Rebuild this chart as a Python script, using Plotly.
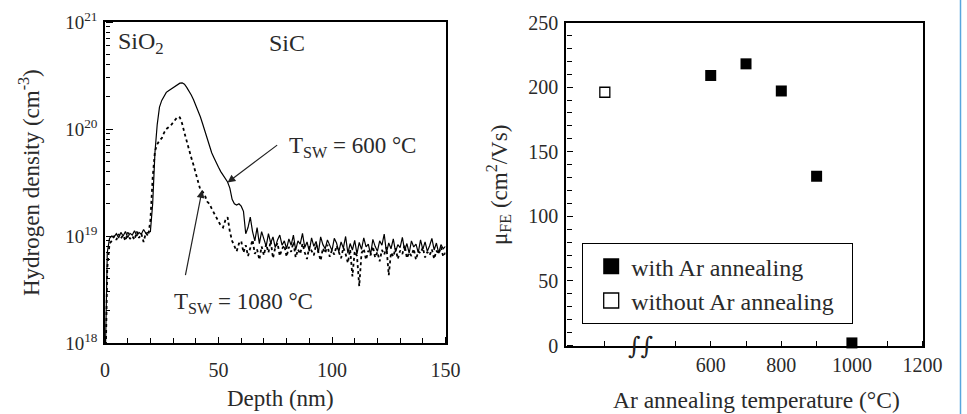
import plotly.graph_objects as go

# ---------------- data: left panel (SIMS hydrogen profile) ----------------
UNIT = 1e18  # values below are in units of 1e18 cm^-3
depth_nm = list(range(0, 151))

h_600C = [0.5, 7, 9.5, 10, 9.8, 10.5, 9.6, 10.8, 10, 11, 9.7, 10.6, 10.2, 11.2, 10, 10.8, 10.4, 11.5, 10.6, 10.8, 11,
          20, 60, 110, 160, 185, 205, 220, 228, 235, 242, 250, 258, 268, 270, 262, 245, 228, 208, 188, 168,
          150, 130, 112, 95, 80, 70, 60, 54, 48, 44, 40, 37, 34, 32, 28, 22, 20, 19.5, 20, 19,
          17, 10.5, 12, 15, 11, 9, 12, 8.5, 11, 9.5, 8, 10.5, 8.6, 9.8, 7.8, 9.2, 10.2, 8.2, 9, 7.6,
          9.4, 8.2, 10.2, 7.4, 9.0, 8.4, 10.6, 7.8, 8.8, 7.2, 9.6, 8.0, 8.9, 7.0, 9.8, 8.3, 7.6, 9.2, 8.1, 7.3,
          9.5, 8.6, 7.1, 8.8, 7.7, 9.9, 6.9, 8.5, 7.4, 9.1, 6.8, 8.7, 7.5, 9.6, 7.9, 8.4, 6.7, 9.3, 8.0, 7.2,
          9.0, 8.2, 10.4, 7.0, 8.6, 7.6, 9.4, 7.1, 8.3, 7.8, 9.7, 7.3, 8.5, 6.9, 9.0, 7.9, 8.4, 7.0, 9.2, 7.5,
          8.8, 7.2, 8.1, 9.5, 7.4, 8.6, 6.9, 8.3, 7.6, 8.0]

h_1080C = [0.3, 5, 8.5, 9, 10, 9.2, 10.4, 9.5, 10.2, 9, 10.8, 9.4, 10, 9.2, 11, 9.6, 10.5, 8.8, 10.7, 10, 14,
           35, 62, 72, 78, 82, 92, 100, 104, 108, 115, 124, 130, 128, 112, 92, 76, 64, 54, 46, 38,
           32, 27, 26, 24, 21, 20, 18, 16.5, 15, 13.5, 12.5, 12, 14, 15, 11, 9, 8, 7.2, 8.5, 9,
           7, 8.2, 6.5, 7.8, 9.2, 6.8, 7.5, 6, 8, 6.6, 8.4, 7.0, 9.0, 6.2, 7.8, 8.6, 6.5, 7.6, 8.2, 6.4,
           7.9, 7.1, 8.8, 6.3, 7.5, 6.8, 8.5, 7.0, 6.1, 8.0, 7.3, 6.6, 8.4, 7.2, 5.9, 7.7, 6.9, 8.3, 6.4, 7.4,
           6.7, 8.1, 7.0, 6.2, 7.8, 6.8, 5.6, 7.5, 4.2, 7.2, 6.5, 3.4, 6.9, 7.6, 6.0, 7.3, 6.6, 8.0, 6.3, 7.1,
           5.8, 7.4, 6.7, 7.9, 4.3, 7.0, 6.4, 7.7, 6.1, 7.3, 6.8, 8.2, 6.2, 7.0, 6.5, 7.6, 6.0, 7.2, 6.9, 7.8,
           6.3, 7.1, 6.6, 7.5, 6.1, 7.3, 6.8, 7.9, 6.4, 7.0]

assert len(h_600C) == len(depth_nm) == len(h_1080C)

# ---------------- data: right panel (field-effect mobility) ----------------
ar_temp_with = [600, 700, 800, 900, 1000]
mu_with = [209, 218, 197, 131, 2]
ar_temp_without = [300]          # plotted left of the axis break
mu_without = [196]

left_x_ticks = [0, 50, 100, 150]
left_x_minor = [10, 20, 30, 40, 60, 70, 80, 90, 110, 120, 130, 140]
left_y_ticks = [1e18, 1e19, 1e20, 1e21]
left_y_ticktext = ["10<sup>18</sup>", "10<sup>19</sup>", "10<sup>20</sup>", "10<sup>21</sup>"]
left_y_minor = [float(m) * 10.0 ** e for e in (18, 19, 20) for m in range(2, 10)]
right_x_ticks = [600, 800, 1000, 1200]
right_x_minor = [300, 500, 700, 900, 1100]
right_y_ticks = [0, 50, 100, 150, 200, 250]

FONT = "Liberation Serif"
TXT = "#2a2a2a"

fig = go.Figure()

fig.add_trace(go.Scatter(x=depth_nm, y=[v * UNIT for v in h_1080C], mode="lines",
                         line=dict(color="black", width=1.8, dash="dot"),
                         xaxis="x", yaxis="y", showlegend=False))
fig.add_trace(go.Scatter(x=depth_nm, y=[v * UNIT for v in h_600C], mode="lines",
                         line=dict(color="black", width=1.2),
                         xaxis="x", yaxis="y", showlegend=False))

fig.add_trace(go.Scatter(x=ar_temp_with, y=mu_with, mode="markers",
                         marker=dict(symbol="square", size=11, color="black"),
                         xaxis="x2", yaxis="y2", showlegend=False, cliponaxis=False))
fig.add_trace(go.Scatter(x=ar_temp_without, y=mu_without, mode="markers",
                         marker=dict(symbol="square", size=10, color="white",
                                     line=dict(color="black", width=1.3)),
                         xaxis="x2", yaxis="y2", showlegend=False, cliponaxis=False))
# legend entries (larger symbols, as in the original legend)
fig.add_trace(go.Scatter(x=[None], y=[None], mode="markers", name="with Ar annealing",
                         marker=dict(symbol="square", size=16, color="black"),
                         xaxis="x2", yaxis="y2"))
fig.add_trace(go.Scatter(x=[None], y=[None], mode="markers",
                         name="without Ar annealing\u00a0\u00a0",
                         marker=dict(symbol="square", size=15, color="white",
                                     line=dict(color="black", width=1.3)),
                         xaxis="x2", yaxis="y2"))
# empty traces that carry the overlay tick axes (inward ticks) of both panels
fig.add_trace(go.Scatter(x=[None], y=[None], mode="markers", xaxis="x3", yaxis="y3",
                         showlegend=False, hoverinfo="skip"))
fig.add_trace(go.Scatter(x=[None], y=[None], mode="markers", xaxis="x4", yaxis="y4",
                         showlegend=False, hoverinfo="skip"))

W, H = 967, 414
def px_x(p):
    return p / W
def px_y(p):
    return 1 - p / H

axis_common = dict(showline=True, linecolor="black", linewidth=1.5, mirror=True,
                   showgrid=False, zeroline=False, automargin=False)
overlay_common = dict(showticklabels=False, showline=False, showgrid=False,
                      zeroline=False, automargin=False, anchor="free")
tick_font = dict(family=FONT, size=20, color=TXT)

L_X_DOM = [px_x(105), px_x(445.5)]
L_Y_DOM = [px_y(343), px_y(22)]
L_X_RANGE = [0, 150]
L_Y_RANGE = [18, 21]
R_X_DOM = [px_x(566), px_x(922.5)]
R_Y_DOM = [px_y(345.5), px_y(22.5)]
R_X_RANGE = [190, 1200]
R_Y_RANGE = [0, 250]

fig.update_layout(
    template="none",
    width=W, height=H,
    margin=dict(l=0, r=0, t=0, b=0, pad=0, autoexpand=False),
    paper_bgcolor="white", plot_bgcolor="rgba(0,0,0,0)",
    font=dict(family=FONT, color=TXT),
    # ---- left panel frame + labels
    xaxis=dict(domain=L_X_DOM, range=L_X_RANGE, anchor="y",
               tickmode="array", tickvals=left_x_ticks, ticks="",
               ticklabelstandoff=8, tickfont=tick_font, **axis_common),
    yaxis=dict(domain=L_Y_DOM, type="log", range=L_Y_RANGE, anchor="x",
               tickmode="array", tickvals=left_y_ticks, ticktext=left_y_ticktext, ticks="",
               ticklabelstandoff=2, tickfont=dict(family=FONT, size=19, color=TXT),
               **axis_common),
    # ---- left panel inward ticks (outward ticks of overlay axes on the opposite side)
    xaxis3=dict(overlaying="x", domain=L_X_DOM, range=L_X_RANGE,
                position=L_Y_DOM[0], side="top",
                tickmode="array", tickvals=left_x_ticks,
                ticks="outside", ticklen=6, tickwidth=1.2, tickcolor="black",
                minor=dict(tickmode="array", tickvals=left_x_minor, ticks="outside",
                           ticklen=5, tickcolor="black", tickwidth=1.2),
                **overlay_common),
    yaxis3=dict(overlaying="y", domain=L_Y_DOM, type="log", range=L_Y_RANGE,
                position=L_X_DOM[0], side="right",
                tickmode="array", tickvals=left_y_ticks,
                ticks="outside", ticklen=7, tickwidth=1.2, tickcolor="black",
                minor=dict(tickmode="array", tickvals=left_y_minor, ticks="outside",
                           ticklen=4, tickcolor="black", tickwidth=1),
                **overlay_common),
    # ---- right panel frame + labels
    xaxis2=dict(domain=R_X_DOM, range=R_X_RANGE, anchor="y2",
                tickmode="array", tickvals=right_x_ticks, ticks="",
                ticklabelstandoff=1, tickfont=tick_font, **axis_common),
    yaxis2=dict(domain=R_Y_DOM, range=R_Y_RANGE, anchor="x2",
                tickmode="array", tickvals=right_y_ticks, ticks="",
                ticklabelstandoff=2, tickfont=tick_font, **axis_common),
    # ---- right panel inward ticks
    xaxis4=dict(overlaying="x2", domain=R_X_DOM, range=R_X_RANGE,
                position=R_Y_DOM[0], side="top",
                tickmode="array", tickvals=right_x_ticks,
                ticks="outside", ticklen=5, tickwidth=1.2, tickcolor="black",
                minor=dict(tickmode="array", tickvals=right_x_minor, ticks="outside",
                           ticklen=5, tickcolor="black", tickwidth=1.2),
                **overlay_common),
    yaxis4=dict(overlaying="y2", domain=R_Y_DOM, range=R_Y_RANGE,
                position=R_X_DOM[0], side="right",
                tickmode="array", tickvals=right_y_ticks,
                ticks="outside", ticklen=6, tickwidth=1.2, tickcolor="black",
                minor=dict(dtick=10, ticks="outside", ticklen=5, tickcolor="black",
                           tickwidth=1),
                **overlay_common),
    legend=dict(x=px_x(582), y=px_y(243), xanchor="left", yanchor="top",
                bordercolor="black", borderwidth=1.2, bgcolor="white",
                font=dict(family=FONT, size=24, color=TXT), indentation=8,
                tracegroupgap=0),
    showlegend=True,
)

ann = []
title_font = dict(family=FONT, size=23, color=TXT)
big_font = dict(family=FONT, size=24, color=TXT)
C = dict(xanchor="center", yanchor="middle", showarrow=False)
# axis titles
ann.append(dict(text="Hydrogen density (cm<sup>-3</sup>)", xref="paper", yref="paper",
                x=px_x(30), y=px_y(183), textangle=-90, font=title_font, **C))
ann.append(dict(text="Depth (nm)", xref="paper", yref="paper", x=px_x(280), y=px_y(398),
                font=title_font, **C))
ann.append(dict(text="μ<sub>FE</sub> (cm<sup>2</sup>/Vs)", xref="paper", yref="paper",
                x=px_x(498), y=px_y(185), textangle=-90, font=title_font, **C))
ann.append(dict(text="Ar annealing temperature (°C)", xref="paper", yref="paper",
                x=px_x(756), y=px_y(400), font=dict(family=FONT, size=23.5, color=TXT), **C))
# region labels
ann.append(dict(text="SiO<sub>2</sub>", xref="x", yref="y", x=5.0, y=20.80, xanchor="left",
                yanchor="middle", showarrow=False, font=big_font))
ann.append(dict(text="SiC", xref="x", yref="y", x=71.5, y=20.80, xanchor="left",
                yanchor="middle", showarrow=False, font=big_font))
# curve labels with arrows
ann.append(dict(text="T<sub>SW</sub> = 600 °C", xref="x", yref="y", x=80.0, y=19.83,
                xanchor="left", yanchor="middle", showarrow=False, font=title_font))
ann.append(dict(text="", xref="x", yref="y", x=54.0, y=19.50, axref="x", ayref="y",
                ax=76.5, ay=19.86, showarrow=True, arrowhead=2, arrowsize=1.3,
                arrowwidth=1.2, arrowcolor="#222"))
ann.append(dict(text="T<sub>SW</sub> = 1080 °C", xref="x", yref="y", x=29.5, y=18.37,
                xanchor="left", yanchor="middle", showarrow=False, font=title_font))
ann.append(dict(text="", xref="x", yref="y", x=42.8, y=19.43, axref="x", ayref="y",
                ax=35.3, ay=18.62, showarrow=True, arrowhead=2, arrowsize=1.3,
                arrowwidth=1.2, arrowcolor="#222"))
# axis break mark
ann.append(dict(text="∫∫", xref="x2", yref="y2", x=400, y=0, xanchor="center",
                yanchor="middle", showarrow=False,
                font=dict(family="DejaVu Serif", size=24, color="#222")))
fig.update_layout(annotations=ann)

# thin blue page border at the right edge of the picture
fig.add_shape(type="line", xref="paper", yref="paper", x0=px_x(960.5), x1=px_x(960.5),
              y0=0, y1=1, line=dict(color="#58a6dd", width=1.5))

fig.write_html("out.html")
